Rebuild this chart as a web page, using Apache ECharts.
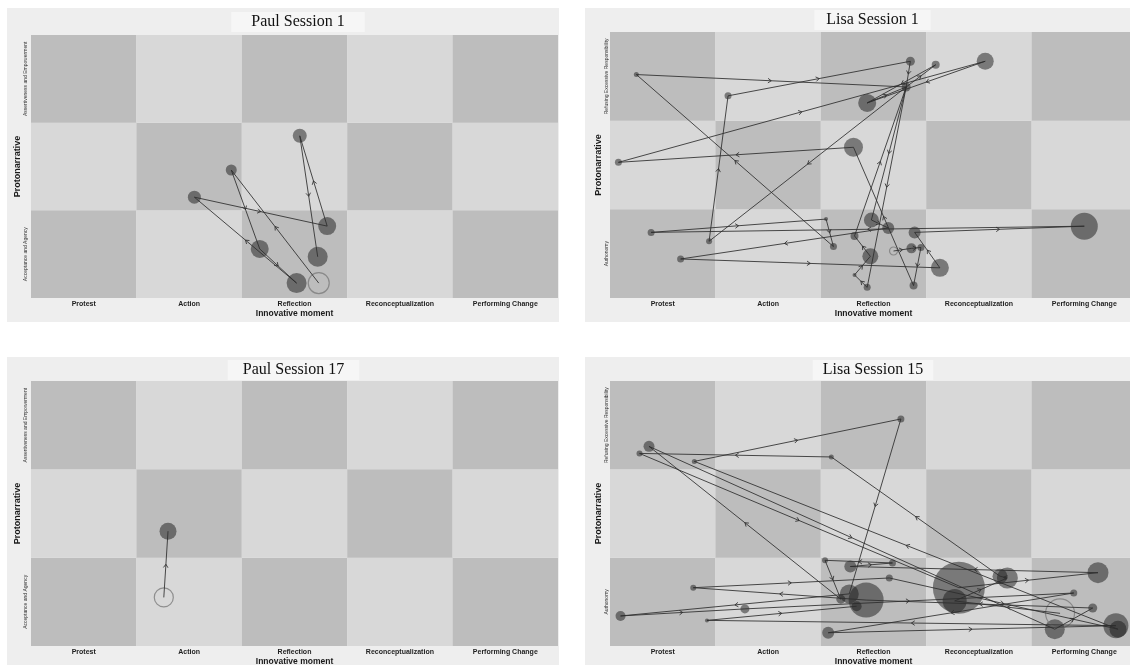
<!DOCTYPE html>
<html>
<head>
<meta charset="utf-8">
<script src="https://cdn.jsdelivr.net/npm/echarts@6.0.0/dist/echarts.min.js"></script>
<style>
  html, body { margin: 0; padding: 0; background: #ffffff; }
  #chart { width: 1130px; height: 665px; }
</style>
</head>
<body>
<div id="chart"></div>
<script>
// Innovative moments (columns) and protonarrative themes (rows, bottom to top)
const momentLabels = ['Protest', 'Action', 'Reflection', 'Reconceptualization', 'Performing Change'];
const paulRows = ['Acceptance and Agency', 'Optimism', 'Assertiveness and Empowerment'];
const lisaRows = ['Authonomy', 'Understanding and Forgiving', 'Refusing Excessive Responsibility'];

// Node positions are in cell units: column 0..5, row 0..3. Sizes are bubble diameters.
// Paths list the visiting order; the first node of each path is drawn as an open ring.

// Paul, session 1
const paul1X    = [2.73, 1.90, 2.17, 2.52, 1.55, 2.81, 2.55, 2.72];
const paul1Y    = [0.17, 1.46, 0.56, 0.17, 1.15, 0.82, 1.85, 0.47];
const paul1Size = [21, 11, 18, 20, 13, 18, 14, 20];
const paul1Path = [0, 1, 2, 3, 4, 5, 6, 7];

// Lisa, session 1
const lisa1X    = [2.85, 3.09, 3.56, 2.81, 2.44, 0.25, 1.12, 0.08, 2.31, 2.48, 2.64, 2.89, 4.50, 0.39,
                   2.05, 2.32, 0.94, 2.12, 2.86, 2.95, 2.69, 2.47, 0.67, 3.13, 2.32, 2.44, 2.88];
const lisa1Y    = [2.67, 2.63, 2.67, 2.38, 2.20, 2.52, 2.28, 1.53, 1.70, 0.88, 0.79, 0.74, 0.81, 0.74,
                   0.89, 0.70, 0.64, 0.58, 0.56, 0.57, 0.53, 0.47, 0.44, 0.34, 0.26, 0.12, 0.14];
const lisa1Size = [9, 8, 17, 9, 18, 5, 7, 7, 19, 15, 12, 12, 27, 7,
                   4, 8, 6, 7, 10, 7, 8, 16, 7, 18, 4, 7, 8];
const lisa1Path = [20, 18, 19, 26, 8, 7, 2, 4, 3, 16, 6, 0, 3, 9, 10, 22, 23, 11, 12, 13, 14, 17, 5, 3,
                   25, 24, 21, 15, 3, 1, 4];

// Paul, session 17
const paul17X    = [1.26, 1.30];
const paul17Y    = [0.55, 1.30];
const paul17Size = [19, 17];
const paul17Path = [0, 1];

// Lisa, session 15
const lisa15X    = [2.76, 0.37, 0.28, 0.80, 2.10, 2.04, 2.28, 2.68, 2.65, 3.31, 3.27, 3.77, 3.70, 4.63, 4.40,
                    4.58, 4.27, 4.22, 4.80, 4.82, 2.43, 2.27, 2.19, 2.34, 0.79, 1.28, 0.10, 0.92, 2.07];
const lisa15Y    = [2.57, 2.26, 2.18, 2.09, 2.14, 0.97, 0.90, 0.94, 0.77, 0.66, 0.51, 0.77, 0.79, 0.83, 0.60,
                    0.43, 0.37, 0.19, 0.23, 0.19, 0.52, 0.59, 0.53, 0.45, 0.66, 0.42, 0.34, 0.29, 0.15];
const lisa15Size = [7, 11, 6, 5, 5, 6, 12, 7, 7, 52, 24, 21, 15, 21, 7,
                    9, 29, 20, 25, 17, 35, 19, 9, 10, 6, 9, 10, 4, 12];
const lisa15Path = [16, 10, 11, 12, 4, 2, 9, 13, 6, 7, 5, 22, 1, 17, 15, 20, 24, 8, 19, 3, 0, 21, 26, 25,
                    14, 28, 18, 27, 23];

const panels = [
  { title: 'Paul Session 1',  rows: paulRows, xs: paul1X,  ys: paul1Y,  sizes: paul1Size,  path: paul1Path,
    grid: { left: 31, top: 35, width: 527, height: 263 }, box: [7, 8, 552, 314],
    titleX: 298, titleTop: 12, titlePad: 20, labelGap: 3, nameGap: 9 },
  { title: 'Lisa Session 1',  rows: lisaRows, xs: lisa1X,  ys: lisa1Y,  sizes: lisa1Size,  path: lisa1Path,
    grid: { left: 610, top: 32, width: 527, height: 266 }, box: [585, 8, 560, 314],
    titleX: 872.5, titleTop: 10, titlePad: 12, labelGap: 1, nameGap: 6 },
  { title: 'Paul Session 17', rows: paulRows, xs: paul17X, ys: paul17Y, sizes: paul17Size, path: paul17Path,
    grid: { left: 31, top: 381, width: 527, height: 265 }, box: [7, 357, 552, 320],
    titleX: 293.5, titleTop: 360, titlePad: 15, labelGap: 3, nameGap: 9 },
  { title: 'Lisa Session 15', rows: lisaRows, xs: lisa15X, ys: lisa15Y, sizes: lisa15Size, path: lisa15Path,
    grid: { left: 610, top: 381, width: 527, height: 265 }, box: [585, 357, 560, 320],
    titleX: 873, titleTop: 360, titlePad: 10, labelGap: 1, nameGap: 6 }
];

const SANS = '"Liberation Sans", Arial, sans-serif';
const SERIF = '"Liberation Serif", "Times New Roman", serif';
const CELL_DARK = '#bdbdbd';
const CELL_LIGHT = '#d8d8d8';

const option = {
  animation: false,
  backgroundColor: '#ffffff',
  title: [], grid: [], xAxis: [], yAxis: [], series: [], graphic: []
};

panels.forEach((p, g) => {
  option.graphic.push({
    type: 'rect', z: -1, silent: true,
    shape: { x: p.box[0], y: p.box[1], width: p.box[2], height: p.box[3] },
    style: { fill: '#eeeeee' }
  });

  // the title group is offset by its left padding, so shift the anchor back by it
  option.title.push({
    text: p.title,
    left: p.titleX - p.titlePad,
    top: p.titleTop,
    textAlign: 'center',
    backgroundColor: '#f6f6f6',
    padding: [2, p.titlePad, 2, p.titlePad],
    textStyle: { fontFamily: SERIF, fontSize: 16, fontWeight: 'normal', color: '#111111' }
  });

  option.grid.push(Object.assign({ show: false, outerBoundsMode: 'none' }, p.grid));

  // category axes carry the labels, value axes place the marks
  option.xAxis.push({
    type: 'category', gridIndex: g, data: momentLabels, boundaryGap: true, z: 5,
    axisLine: { show: false }, axisTick: { show: false }, splitLine: { show: false },
    axisLabel: { margin: 3, fontFamily: SANS, fontSize: 7, fontWeight: 'bold', color: '#1e1e1e' },
    name: 'Innovative moment', nameLocation: 'middle', nameGap: 11,
    nameTextStyle: { fontFamily: SANS, fontSize: 8.5, fontWeight: 'bold', color: '#1a1a1a' }
  });
  option.xAxis.push({ type: 'value', gridIndex: g, min: 0, max: 5, show: false });

  option.yAxis.push({
    type: 'category', gridIndex: g, data: p.rows, boundaryGap: true, z: 5,
    axisLine: { show: false }, axisTick: { show: false }, splitLine: { show: false },
    axisLabel: { rotate: 90, margin: p.labelGap, fontFamily: SANS, fontSize: 5, color: '#333333' },
    name: 'Protonarrative', nameLocation: 'middle', nameGap: p.nameGap, nameRotate: 90,
    nameTextStyle: { fontFamily: SANS, fontSize: 9, fontWeight: 'bold', color: '#1a1a1a' }
  });
  option.yAxis.push({ type: 'value', gridIndex: g, min: 0, max: 3, show: false });

  const xi = 2 * g + 1, yi = 2 * g + 1;

  // checkerboard of cells
  const cells = [];
  for (let i = 0; i < momentLabels.length; i++) {
    for (let j = 0; j < p.rows.length; j++) cells.push([i, j]);
  }
  option.series.push({
    type: 'custom', xAxisIndex: xi, yAxisIndex: yi, z: 1, silent: true,
    data: cells,
    renderItem: (params, api) => {
      const i = api.value(0), j = api.value(1);
      const a = api.coord([i, j + 1]);
      const b = api.coord([i + 1, j]);
      return {
        type: 'rect',
        shape: { x: a[0], y: a[1], width: b[0] - a[0], height: b[1] - a[1] },
        style: { fill: (i + j) % 2 === 0 ? CELL_DARK : CELL_LIGHT }
      };
    }
  });

  // filled bubbles (all nodes except the starting one)
  const start = p.path[0];
  const bubbles = [];
  p.xs.forEach((x, k) => { if (k !== start) bubbles.push([x, p.ys[k], p.sizes[k]]); });
  option.series.push({
    type: 'scatter', xAxisIndex: xi, yAxisIndex: yi, z: 3, silent: true,
    data: bubbles,
    symbol: 'circle',
    symbolSize: (v) => v[2],
    itemStyle: { color: 'rgba(25,25,25,0.62)', borderWidth: 0 }
  });

  // starting node: open ring
  option.series.push({
    type: 'scatter', xAxisIndex: xi, yAxisIndex: yi, z: 4, silent: true,
    data: [[p.xs[start], p.ys[start], p.sizes[start]]],
    symbol: 'circle',
    symbolSize: (v) => v[2],
    itemStyle: { color: 'rgba(0,0,0,0)', borderColor: '#7c7c7c', borderWidth: 1.2 }
  });

  // path segments with a chevron at each midpoint
  const segs = [];
  for (let k = 0; k + 1 < p.path.length; k++) {
    const s = p.path[k], e = p.path[k + 1];
    segs.push([p.xs[s], p.ys[s], p.xs[e], p.ys[e]]);
  }
  option.series.push({
    type: 'custom', xAxisIndex: xi, yAxisIndex: yi, z: 5, silent: true,
    encode: { x: [0, 2], y: [1, 3] },
    data: segs,
    renderItem: (params, api) => {
      const a = api.coord([api.value(0), api.value(1)]);
      const b = api.coord([api.value(2), api.value(3)]);
      const mx = (a[0] + b[0]) / 2, my = (a[1] + b[1]) / 2;
      const ang = Math.atan2(b[1] - a[1], b[0] - a[0]);
      const L = 4, spread = 0.6;
      const w1 = [mx - L * Math.cos(ang - spread), my - L * Math.sin(ang - spread)];
      const w2 = [mx - L * Math.cos(ang + spread), my - L * Math.sin(ang + spread)];
      const stroke = { stroke: 'rgba(45,45,45,0.85)', lineWidth: 1, fill: null };
      return {
        type: 'group',
        children: [
          { type: 'line', shape: { x1: a[0], y1: a[1], x2: b[0], y2: b[1] }, style: stroke },
          { type: 'polyline', shape: { points: [w1, [mx, my], w2] }, style: stroke }
        ]
      };
    }
  });
});

const chart = echarts.init(document.getElementById('chart'), null, { renderer: 'canvas' });
chart.setOption(option);
</script>
</body>
</html>
